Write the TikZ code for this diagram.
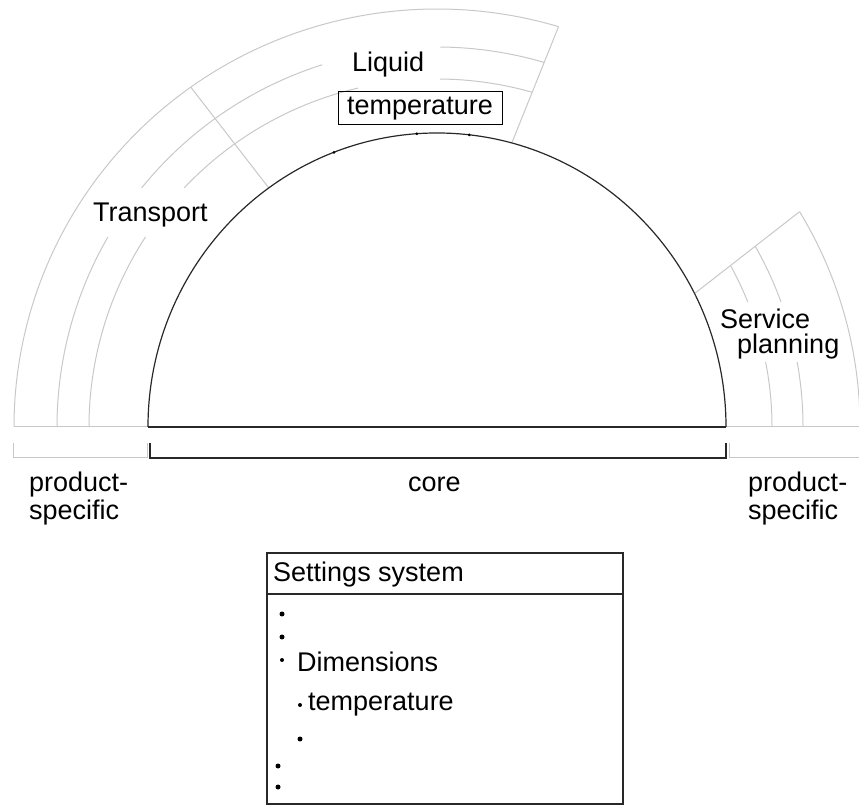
\documentclass[tikz,border=0pt]{standalone}
\usepackage{fontspec}
\setmainfont{Liberation Sans}
\definecolor{pgray}{RGB}{200,200,200}
\definecolor{dline}{RGB}{40,40,40}
\newcommand{\twolines}[2]{\begin{tabular}[t]{@{}l@{}}#1\\#2\end{tabular}}
\tikzset{
  coreline/.style={draw=dline, line width=1.2pt},
  psline/.style={draw=pgray, line width=1pt},
  lbl/.style={anchor=base west, inner sep=0pt, font=\fontsize{27}{28}\selectfont},
  dotmark/.style={fill=black, draw=none, circle, inner sep=0pt, minimum size=#1},
  dotmark/.default=5pt,
  tick/.style={fill=black, draw=none, circle, inner sep=0pt, minimum size=3pt},
}
\begin{document}
\begin{tikzpicture}[x=1pt,y=1pt]
\useasboundingbox (0,0) rectangle (859,806);
\coordinate (C) at (437,379);
\begin{scope}[shift={(C)}]
  % ---- product-specific rings (grey) ----
  \draw[psline] (73.3:423pt and 418pt) arc[start angle=73.3, end angle=180, x radius=423pt, y radius=418pt];
  \draw[psline] (0:423pt and 418pt) arc[start angle=0, end angle=31, x radius=423pt, y radius=418pt];
  \draw[psline] (75:289pt and 294pt) -- (73.3:423pt and 418pt);
  \draw[psline] (125.6:289pt and 294pt) -- (125.6:423pt and 418pt);
  \draw[psline] (27:289pt and 294pt) -- (31:423pt and 418pt);
  % inner grey rings, left / top
  \draw[psline] (180:380pt) arc[start angle=180, end angle=150, radius=380pt];
  \draw[psline] (141:380pt) arc[start angle=141, end angle=107.6, radius=380pt];
  \draw[psline] (89.5:380pt) arc[start angle=89.5, end angle=73.6, radius=380pt];
  \draw[psline] (180:348pt) arc[start angle=180, end angle=146.9, radius=348pt];
  \draw[psline] (136.6:348pt) arc[start angle=136.6, end angle=103.1, radius=348pt];
  \draw[psline] (89.5:348pt) arc[start angle=89.5, end angle=74.1, radius=348pt];
  % inner grey rings, right
  \draw[psline] (0:335pt) arc[start angle=0, end angle=11.2, radius=335pt];
  \draw[psline] (21.9:335pt) arc[start angle=21.9, end angle=28.8, radius=335pt];
  \draw[psline] (0:366pt) arc[start angle=0, end angle=10.2, radius=366pt];
  \draw[psline] (20:366pt) arc[start angle=20, end angle=29.6, radius=366pt];
  % grey base lines
  \draw[psline] (-423,0) -- (-289,0);
  \draw[psline] (289,0) -- (422,0);
  % ---- core half disc ----
  \draw[coreline] (0:289pt and 294pt) arc[start angle=0, end angle=180, x radius=289pt, y radius=294pt];
  \draw[coreline] (-289,0) -- (289,0);
  \node[tick] (k1) at (110.9:289pt and 294pt) {};
  \node[tick] (k2) at (94:289pt and 294pt) {};
  \node[tick] (k3) at (83.6:289pt and 294pt) {};
\end{scope}

% ---- brackets ----
\draw[psline] (13,363) -- (13,348) -- (147,348) -- (147,363);
\draw[coreline] (150,363) -- (150,348) -- (726,348) -- (726,363);
\draw[psline] (729,363) -- (729,348) -- (859,348);

% ---- labels ----
\node[lbl] (tTransport) at (93,584.3) {Transport};
\node[lbl] (tLiquid) at (352,734) {Liquid};
\node[draw=black, line width=1pt, minimum width=164pt, minimum height=33pt,
      text height=19pt, text depth=6pt, inner sep=0pt,
      font=\fontsize{27}{28}\selectfont] (tTemp) at (420,697.5) {temperature};
\node[lbl] (tService) at (720,477) {Service};
\node[lbl] (tPlanning) at (737,452) {planning};
\node[lbl] (tProdL) at (29,314) {\twolines{product-}{specific}};
\node[lbl] (tCore) at (408,314) {core};
\node[lbl] (tProdR) at (748,314) {\twolines{product-}{specific}};

% ---- settings box ----
\node[draw=dline, line width=1.2pt, minimum width=356pt, minimum height=251pt, inner sep=0pt] (settings) at (445,127.5) {};
\coordinate (divy) at (0,212);
\draw[coreline] (settings.west |- divy) -- (settings.east |- divy);
\node[lbl] (header) at (273,224) {Settings system};
\node[dotmark] (b1) at (282,192) {};
\node[dotmark] (b2) at (282,169) {};
\node[dotmark=4pt] (b3) at (282,146) {};
\node[lbl] (dims) at (297,134.3) {Dimensions};
\node[dotmark=4pt] (b4) at (300,101) {};
\node[lbl] (temp2) at (308,96) {temperature};
\node[dotmark] (b5) at (300,67) {};
\node[dotmark] (b6) at (278,40) {};
\node[dotmark] (b7) at (278,19) {};
\end{tikzpicture}
\end{document}
